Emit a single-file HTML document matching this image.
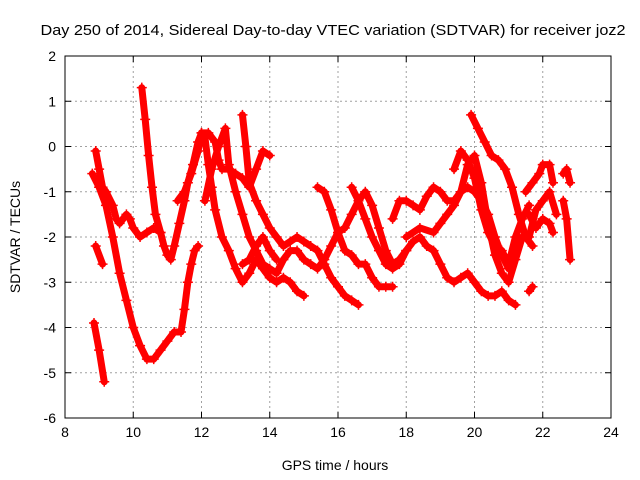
<!DOCTYPE html>
<html><head><meta charset="utf-8"><style>
body{margin:0;background:#fff}
svg{display:block;font-family:"Liberation Sans",sans-serif}
</style></head><body>
<svg width="640" height="480">
<g id="grid"></g><g id="series"></g><g id="axes"></g>
<text x="333" y="35" text-anchor="middle" font-size="15" textLength="585" lengthAdjust="spacingAndGlyphs">Day 250 of 2014, Sidereal Day-to-day VTEC variation (SDTVAR) for receiver joz2</text>
<text x="335" y="470" text-anchor="middle" font-size="14">GPS time / hours</text>
<text transform="translate(20,237) rotate(-90)" text-anchor="middle" font-size="14">SDTVAR / TECUs</text>
</svg>
<script>
const xTicks=[8,10,12,14,16,18,20,22,24];
const yTicks=[2,1,0,-1,-2,-3,-4,-5,-6];
const tracks=[
[[8.8,-0.6],[9.0,-0.9],[9.2,-1.3],[9.4,-2.0],[9.6,-2.8],[9.8,-3.4],[10.0,-4.0],[10.2,-4.4],[10.4,-4.7],[10.6,-4.7],[10.8,-4.5],[11.0,-4.3],[11.2,-4.1],[11.4,-4.1],[11.5,-3.6],[11.6,-3.0],[11.7,-2.6],[11.8,-2.3],[11.9,-2.2]],
[[8.9,-0.1],[9.0,-0.5],[9.1,-0.9],[9.2,-1.0],[9.4,-1.3],[9.5,-1.6],[9.6,-1.7],[9.8,-1.5],[9.9,-1.6],[10.0,-1.8],[10.2,-2.0],[10.4,-1.9],[10.6,-1.8],[10.8,-1.9]],
[[10.25,1.3],[10.35,0.6],[10.45,-0.2],[10.55,-0.9],[10.65,-1.5],[10.8,-1.9],[10.9,-2.2],[11.0,-2.4],[11.1,-2.5],[11.2,-2.2],[11.35,-1.7],[11.5,-1.2],[11.6,-0.8],[11.75,-0.4],[11.9,0.1],[12.0,0.3],[12.2,0.3],[12.4,0.1],[12.5,-0.3],[12.6,-0.5],[12.8,-0.5],[13.0,-0.6],[13.2,-0.7],[13.4,-0.9],[13.6,-0.5],[13.8,-0.1],[14.0,-0.2]],
[[11.3,-1.2],[11.5,-1.0],[11.7,-0.6],[11.9,-0.1],[12.0,0.3],[12.1,0.2],[12.2,-0.4],[12.3,-0.9],[12.4,-1.4],[12.6,-2.0],[12.8,-2.3],[13.0,-2.7],[13.2,-3.0],[13.4,-2.8],[13.6,-2.5],[13.8,-2.7],[14.0,-2.9],[14.2,-3.0],[14.4,-2.9],[14.6,-3.0],[14.8,-3.2],[15.0,-3.3]],
[[12.1,-1.2],[12.3,-0.5],[12.5,0.0],[12.7,0.4],[12.8,-0.4],[13.0,-1.0],[13.2,-1.5],[13.4,-2.0],[13.6,-2.3],[13.8,-2.6],[14.0,-2.7],[14.2,-2.8],[14.4,-2.5],[14.6,-2.3],[14.8,-2.3],[15.0,-2.5],[15.2,-2.6],[15.4,-2.7],[15.6,-2.5],[15.8,-2.2],[16.0,-1.9],[16.2,-1.8],[16.4,-1.5],[16.6,-1.2],[16.8,-1.0],[17.0,-1.3],[17.2,-1.8],[17.4,-2.3],[17.6,-2.6],[17.8,-2.5],[18.0,-2.3]],
[[13.2,0.7],[13.3,0.0],[13.4,-0.8],[13.6,-1.2],[13.8,-1.5],[14.0,-1.8],[14.2,-2.0],[14.4,-2.2],[14.6,-2.1],[14.8,-2.0],[15.0,-2.1],[15.2,-2.2],[15.4,-2.3],[15.6,-2.6],[15.8,-2.9],[16.0,-3.1],[16.2,-3.3],[16.4,-3.4],[16.6,-3.5]],
[[13.2,-2.6],[13.4,-2.5],[13.6,-2.2],[13.8,-2.0],[14.0,-2.3],[14.2,-2.5]],
[[15.4,-0.9],[15.6,-1.0],[15.8,-1.4],[16.0,-1.9],[16.2,-2.3],[16.4,-2.4],[16.6,-2.6],[16.8,-2.6],[17.0,-2.9],[17.2,-3.1],[17.4,-3.1],[17.6,-3.1]],
[[16.4,-0.9],[16.6,-1.2],[16.8,-1.6],[17.0,-2.0],[17.2,-2.3],[17.4,-2.6],[17.6,-2.7],[17.8,-2.6],[18.0,-2.3],[18.2,-2.1],[18.4,-2.0],[18.6,-2.2],[18.8,-2.3],[19.0,-2.6],[19.2,-2.9],[19.4,-3.0],[19.6,-2.9],[19.8,-2.8],[20.0,-3.0],[20.2,-3.2],[20.4,-3.3],[20.6,-3.3],[20.8,-3.2],[21.0,-3.4],[21.2,-3.5]],
[[17.6,-1.6],[17.8,-1.2],[18.0,-1.2],[18.2,-1.3],[18.4,-1.4],[18.6,-1.1],[18.8,-0.9],[19.0,-1.0],[19.2,-1.2],[19.4,-1.2],[19.6,-1.0],[19.8,-0.4],[20.0,-0.2],[20.2,-0.8],[20.4,-1.7],[20.6,-2.4],[20.8,-2.8],[21.0,-3.0],[21.2,-2.5],[21.4,-2.0]],
[[19.4,-0.5],[19.6,-0.1],[19.8,-0.3],[20.0,-0.7],[20.2,-1.4],[20.4,-1.9],[20.6,-2.2],[20.8,-2.3],[21.0,-2.6],[21.2,-2.0],[21.4,-1.6],[21.6,-1.3]],
[[19.9,0.7],[20.1,0.4],[20.3,0.1],[20.5,-0.2],[20.7,-0.3],[20.9,-0.5],[21.1,-0.9],[21.3,-1.5],[21.5,-2.0],[21.7,-2.2]],
[[18.0,-2.0],[18.4,-1.8],[18.8,-1.9],[19.0,-1.7],[19.2,-1.5],[19.4,-1.3],[19.6,-1.0],[19.8,-0.9],[20.0,-1.0],[20.2,-1.2],[20.4,-1.5],[20.6,-2.0],[20.8,-2.4],[21.0,-2.7]],
[[21.5,-1.0],[21.7,-0.8],[21.9,-0.6],[22.0,-0.4],[22.2,-0.4],[22.3,-0.8]],
[[21.6,-2.0],[21.8,-1.4],[22.0,-1.2],[22.2,-1.0],[22.4,-1.5]],
[[21.6,-1.5],[21.8,-1.8],[22.0,-1.6],[22.2,-1.7],[22.3,-1.9]],
[[22.6,-0.6],[22.7,-0.5],[22.8,-0.8]],
[[22.6,-1.2],[22.7,-1.6],[22.8,-2.5]],
[[8.85,-3.9],[9.0,-4.5],[9.15,-5.2]],
[[8.9,-2.2],[9.1,-2.6]],
[[21.6,-3.2],[21.7,-3.1]]
];
const X0=65,X1=611,Y0=56,Y1=418;
const sx=v=>X0+(v-8)/16*(X1-X0);
const sy=v=>Y0+(2-v)/8*(Y1-Y0);
const NS='http://www.w3.org/2000/svg';
const mk=(t,a,p)=>{const e=document.createElementNS(NS,t);for(const k in a)e.setAttribute(k,a[k]);p.appendChild(e);return e;};
const grid=document.getElementById('grid'),axes=document.getElementById('axes'),ser=document.getElementById('series');
xTicks.forEach(t=>{
 const x=sx(t);
 if(t>8&&t<24){const l=mk('line',{x1:x,x2:x,y1:Y0,y2:Y1,stroke:'#a0a0a0','stroke-dasharray':'2,3'},grid);
 
 }
 mk('line',{x1:x,x2:x,y1:Y1,y2:Y1-6,stroke:'#000'},axes);
 mk('line',{x1:x,x2:x,y1:Y0,y2:Y0+6,stroke:'#000'},axes);
 const tx=mk('text',{x:x,y:Y1+19,'text-anchor':'middle','font-size':'14'},axes);tx.textContent=t;
 
 
});
yTicks.forEach(t=>{
 const y=sy(t);
 if(t<2&&t>-6){const l=mk('line',{x1:X0,x2:X1,y1:y,y2:y,stroke:'#a0a0a0','stroke-dasharray':'2,3'},grid);
 
 }
 mk('line',{x1:X0,x2:X0+6,y1:y,y2:y,stroke:'#000'},axes);
 mk('line',{x1:X1,x2:X1-6,y1:y,y2:y,stroke:'#000'},axes);
 const tx=mk('text',{x:X0-9,y:y+5,'text-anchor':'end','font-size':'14'},axes);tx.textContent=t;
 
 
});
const fr=mk('rect',{x:X0,y:Y0,width:X1-X0,height:Y1-Y0,fill:'none',stroke:'#000'},axes);


tracks.forEach((tr,i)=>{
 const pl=mk('polyline',{points:tr.map(p=>sx(p[0])+','+sy(p[1])).join(' '),fill:'none',stroke:'#f00','stroke-width':'7','stroke-linejoin':'round','stroke-linecap':'round'},ser);
 
 
 tr.forEach(p=>{
  const x=sx(p[0]),y=sy(p[1]);
  const m=mk('path',{d:`M${x-5},${y}H${x+5}M${x},${y-5}V${y+5}`,stroke:'#f00','stroke-width':'1.5'},ser);
  
  
 });
});
</script>
</body></html>
